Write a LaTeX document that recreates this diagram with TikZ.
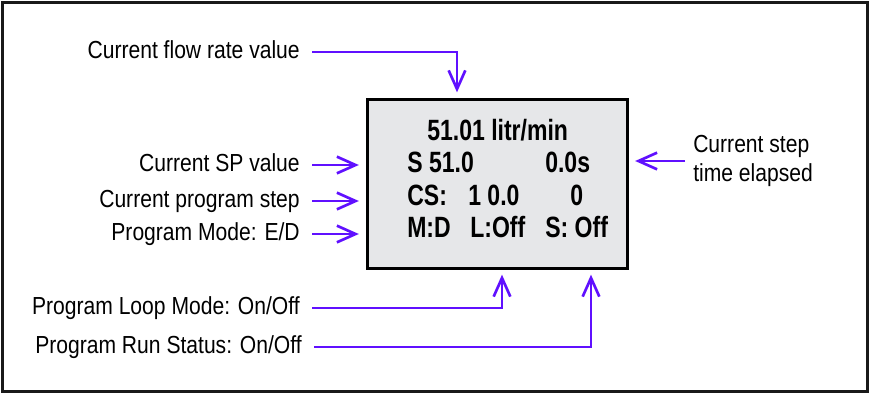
\documentclass[tikz,border=0pt]{standalone}
\usepackage{fontspec}
\usepackage{xcolor}
\setmainfont{Liberation Sans}[FakeStretch=0.855]
\newfontfamily\lcdfont{Liberation Sans}[FakeStretch=0.785]
\usetikzlibrary{arrows.meta, positioning}

\definecolor{pointer}{HTML}{6010FF}
\definecolor{lcdgray}{RGB}{230,231,233}

\begin{document}
\begin{tikzpicture}[
        x=0.75pt, y=-0.75pt,
        lbl/.style={inner sep=0, text height=10.5pt, text depth=1.5pt,
            font=\fontsize{18.5}{21.75}\selectfont},
        lcdbox/.style={draw=black, line width=2.25pt, fill=lcdgray,
            minimum width=195pt, minimum height=126.75pt, inner sep=0},
        lcdtxt/.style={inner sep=0, anchor=base west,
            font=\lcdfont\bfseries\fontsize{22}{25}\selectfont},
        ptr/.style={draw=pointer, line width=2pt, shorten <=9pt, shorten >=5pt,
            -{Straight Barb[length=14pt, width=12.5pt]}},
        frame/.style={draw=black!90, line width=2.25pt}
    ]
    \useasboundingbox (0,0) rectangle (869,393);
    \draw[frame] (2,2) rectangle (867,391);

    % Display
    \node[lcdbox] (lcd) at (497,183.5) {};
    \node[lcdtxt] (rate) at (427,140) {51.01 litr/min};
    \node[lcdtxt] (sp) at (407,172.5) {S 51.0};
    \node[lcdtxt] (time) at (545,172.5) {0.0s};
    \node[lcdtxt] (cs) at (407,205) {CS:};
    \node[lcdtxt] (csval) at (468,205) {1 0.0};
    \node[lcdtxt] (cnt) at (570,205) {0};
    \node[lcdtxt] (md) at (407,237.5) {M:D};
    \node[lcdtxt] (lp) at (470,237.5) {L:Off};
    \node[lcdtxt] (st) at (545,237.5) {S: Off};

    % Labels
    \node[lbl, anchor=east] (flowlbl) at (300,52) {Current flow rate value};
    \node[lbl, anchor=east] (splbl) at (300,165) {Current SP value};
    \node[lbl, anchor=east] (steplbl) at (300,201) {Current program step};
    \node[lbl, anchor=east] (modelbl) at (300,234) {Program Mode: E/D};
    \node[lbl, anchor=east] (looplbl) at (300,308) {Program Loop Mode: On/Off};
    \node[lbl, anchor=east] (runlbl) at (302,347) {Program Run Status: On/Off};
    \node[lbl, anchor=west, align=left, text height=, text depth=] (timelbl) at (693,161) {Current step\\time elapsed};

    % Entry points on the display
    \coordinate (flowin) at (457,99);
    \coordinate (loopin) at (502,268);
    \coordinate (runin) at (591,268);

    % Pointers
    \draw[ptr] (flowlbl) -| (flowin);
    \draw[ptr] (splbl) -- (splbl -| lcd.west);
    \draw[ptr] (steplbl) -- (steplbl -| lcd.west);
    \draw[ptr] (modelbl) -- (modelbl -| lcd.west);
    \draw[ptr] (looplbl) -| (loopin);
    \draw[ptr] (runlbl) -| (runin);
    \draw[ptr, shorten <=6pt] (timelbl) -- (timelbl -| lcd.east);

\end{tikzpicture}
\end{document}
